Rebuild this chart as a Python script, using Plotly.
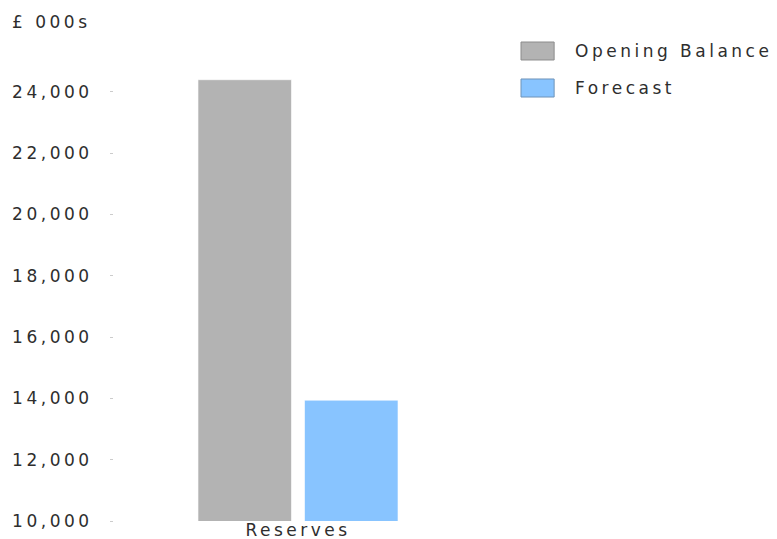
import plotly.graph_objects as go

# Reserves position (£ 000s)
categories = ["Reserves"]
series_names = ["Opening Balance", "Forecast"]
opening_balance = [24390]
forecast = [13940]
series_colors = ["#b3b3b3", "#88c4ff"]
swatch_borders = ["#8c8c8c", "#6f93b8"]
tick_values = [10000, 12000, 14000, 16000, 18000, 20000, 22000, 24000]
tick_labels = ["10,000", "12,000", "14,000", "16,000", "18,000", "20,000", "22,000", "24,000"]

FONT = "DejaVu Sans"
FONT_SIZE = 17
TEXT_COLOR = "#2e2e2e"

fig = go.Figure()
for name, vals, col in zip(series_names, [opening_balance, forecast], series_colors):
    fig.add_trace(go.Bar(
        x=categories, y=vals, name=name,
        marker=dict(color=col, line=dict(width=1, color="rgba(255,255,255,0.6)")),
        showlegend=False, hoverinfo="x+y+name",
    ))

# hand-built legend with wide swatches
legend_rows = [(1.0413, 1.0022, 1.0217), (0.9609, 0.9217, 0.9413)]
for (y_top, y_bot, y_mid), name, col, border in zip(legend_rows, series_names, series_colors, swatch_borders):
    fig.add_shape(type="rect", xref="paper", yref="paper",
                  x0=1.106, x1=1.196, y0=y_bot, y1=y_top,
                  fillcolor=col, line=dict(color=border, width=1))
    fig.add_annotation(xref="paper", yref="paper", x=1.247, y=y_mid,
                       text=name, showarrow=False, xanchor="left", yanchor="middle",
                       font=dict(family=FONT, size=FONT_SIZE, color=TEXT_COLOR))

fig.add_annotation(xref="paper", yref="paper", x=-0.282, y=1.085,
                   text="£ 000s", showarrow=False, xanchor="left", yanchor="middle",
                   font=dict(family=FONT, size=FONT_SIZE, color=TEXT_COLOR))

fig.update_layout(
    width=777, height=539,
    margin=dict(l=114, r=295, t=61, b=18),
    paper_bgcolor="white", plot_bgcolor="white",
    barmode="group", bargap=0.421, bargroupgap=0.1226,
    font=dict(family=FONT, size=FONT_SIZE, color=TEXT_COLOR),
    xaxis=dict(showgrid=False, showline=False, zeroline=False, ticks="",
               automargin=False, ticklabelstandoff=-3,
               tickfont=dict(family=FONT, size=FONT_SIZE, color=TEXT_COLOR)),
    yaxis=dict(range=[10000, 25000], tickvals=tick_values, ticktext=tick_labels,
               showgrid=False, showline=False, zeroline=False, automargin=False,
               ticks="outside", ticklen=3, tickcolor="#cccccc", tickwidth=1,
               ticklabelstandoff=14,
               tickfont=dict(family=FONT, size=FONT_SIZE, color=TEXT_COLOR)),
)

# widen the lettering; annotations keep their left edge fixed
spacing_js = """
var gd = document.getElementById('{plot_id}');
var LS = '3.5px';
gd.querySelectorAll('.annotation-text').forEach(function(t){
    var bb = t.getBBox();
    t.setAttribute('text-anchor', 'start');
    t.setAttribute('x', bb.x);
    t.style.letterSpacing = LS;
});
gd.querySelectorAll('.xtick text, .ytick text').forEach(function(t){
    t.style.letterSpacing = LS;
});
"""

fig.write_html("out.html", post_script=spacing_js)
